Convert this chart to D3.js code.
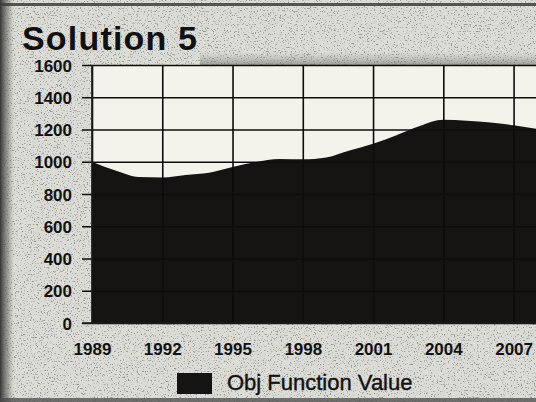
<!DOCTYPE html>
<html>
<head>
<meta charset="utf-8">
<script src="https://cdn.jsdelivr.net/npm/d3@7"></script>
<style>
	body{margin:0;background:#dcdcd7;}
	svg{display:block;}
	.tick-label{font-family:"Liberation Sans",Arial,sans-serif;font-weight:bold;font-size:17px;fill:#111;}
</style>
</head>
<body>
<div id="plot"></div>
<script>
//Chart data
var YEARS = [1989,1990,1991,1992,1993,1994,1995,1996,1997,1998,1999,2000,2001,2002,2003,2004,2005,2006,2007,2008];
var OBJ_VALUES = [1000,945,905,903,918,932,968,998,1017,1015,1027,1070,1112,1165,1222,1260,1255,1244,1226,1203];
var Y_TICKS = [0,200,400,600,800,1000,1200,1400,1600];
var X_TICKS = [1989,1992,1995,1998,2001,2004,2007];
var TITLE = 'Solution 5',
	LEGEND_LABEL = 'Obj Function Value';

var W = 536, H = 402;
var m = {t:65,r:-1,b:79,l:92};

var svg = d3.select('#plot').append('svg')
	.attr('width',W)
	.attr('height',H);

//speckle texture of the scan
var defs = svg.append('defs');
var grain = defs.append('filter').attr('id','grain')
	.attr('x',0).attr('y',0).attr('width','100%').attr('height','100%');
grain.append('feTurbulence')
	.attr('type','fractalNoise')
	.attr('baseFrequency',0.7)
	.attr('numOctaves',3)
	.attr('seed',7);
grain.append('feColorMatrix')
	.attr('type','matrix')
	.attr('values','0 0 0 0 0.3  0 0 0 0 0.3  0 0 0 0 0.28  -6 0 0 0 2.55');

var edge = defs.append('linearGradient').attr('id','edge');
edge.append('stop').attr('offset','0%').attr('stop-color','#2e2e2c').attr('stop-opacity',0.95);
edge.append('stop').attr('offset','60%').attr('stop-color','#6a6a66').attr('stop-opacity',0.5);
edge.append('stop').attr('offset','100%').attr('stop-color','#8a8a86').attr('stop-opacity',0);

var band = defs.append('linearGradient').attr('id','band')
	.attr('x1',0).attr('y1',0).attr('x2',0).attr('y2',1);
band.append('stop').attr('offset','0%').attr('stop-color','#9a9a94').attr('stop-opacity',0);
band.append('stop').attr('offset','100%').attr('stop-color','#6a6a64').attr('stop-opacity',0.55);

svg.append('rect').attr('width',W).attr('height',H).attr('fill','#dcdcd7');
svg.append('rect').attr('width',W).attr('height',H).attr('filter','url(#grain)');
svg.append('rect').attr('x',0).attr('y',0).attr('width',14).attr('height',H).attr('fill','url(#edge)');
svg.append('rect').attr('x',200).attr('y',52).attr('width',W-200).attr('height',13).attr('fill','url(#band)');
svg.append('rect').attr('x',0).attr('y',3).attr('width',W).attr('height',3).attr('fill','#3c3c3a').attr('opacity',0.85);
svg.append('rect').attr('x',0).attr('y',H-4).attr('width',W).attr('height',4).attr('fill','#4a4a48').attr('opacity',0.75);

var w = W - m.l - m.r,
	h = H - m.t - m.b;

var scaleX = d3.scaleLinear().domain([1989,2008]).range([0,w]),
	scaleY = d3.scaleLinear().domain([0,1600]).range([h,0]);

var plot = svg.append('g')
	.attr('class','canvas')
	.attr('transform','translate('+m.l+','+m.t+')');

//plot background
plot.append('rect')
	.attr('width',w).attr('height',h)
	.attr('fill','#f3f3ec');

//filled area
var area = d3.area()
	.x(function(d){return scaleX(d.year)})
	.y0(h)
	.y1(function(d){return scaleY(d.value)})
	.curve(d3.curveMonotoneX);

var series = YEARS.map(function(y,i){return {year:y,value:OBJ_VALUES[i]}});

plot.append('path').attr('class','area')
	.datum(series)
	.attr('d',area)
	.attr('fill','#161412');

//grid
var yAxis = d3.axisLeft(scaleY)
	.tickValues(Y_TICKS)
	.tickSize(-w)
	.tickSizeOuter(0)
	.tickPadding(20)
	.tickFormat(d3.format('d'));
var gy = plot.append('g').attr('class','axis axis-y').call(yAxis);
gy.select('.domain').remove();
gy.selectAll('.tick line')
	.attr('x1',-10)
	.attr('stroke','#0d0c0b')
	.attr('stroke-width',1.6);
gy.selectAll('.tick text')
	.attr('class','tick-label')
	.attr('dy','0.36em');

var xAxis = d3.axisBottom(scaleX)
	.tickValues(X_TICKS)
	.tickSize(-h)
	.tickSizeOuter(0)
	.tickPadding(20)
	.tickFormat(d3.format('d'));
var gx = plot.append('g').attr('class','axis axis-x')
	.attr('transform','translate(0,'+h+')')
	.call(xAxis);
gx.select('.domain').remove();
gx.selectAll('.tick line')
	.attr('stroke','#0d0c0b')
	.attr('stroke-width',1.6);
gx.selectAll('.tick text')
	.attr('class','tick-label')
	.attr('y',32)
	.attr('dy',0);

//left and bottom frame
plot.append('line')
	.attr('x1',0).attr('x2',0).attr('y1',0).attr('y2',h)
	.attr('stroke','#1c1c1a').attr('stroke-width',1.6);
plot.append('line')
	.attr('x1',-10).attr('x2',w).attr('y1',h).attr('y2',h)
	.attr('stroke','#1c1c1a').attr('stroke-width',1.6);

//title
svg.append('text')
	.attr('x',22).attr('y',50)
	.attr('textLength',175)
	.attr('lengthAdjust','spacing')
	.style('font-family','"Liberation Sans",Arial,sans-serif')
	.style('font-weight','bold')
	.style('font-size','34px')
	.style('fill','#111')
	.text(TITLE);

//legend
var legend = svg.append('g').attr('class','legend')
	.attr('transform','translate(177,373)');
legend.append('rect')
	.attr('width',35).attr('height',21)
	.attr('fill','#161412');
legend.append('text')
	.attr('x',50).attr('y',17)
	.style('font-family','"Liberation Sans",Arial,sans-serif')
	.style('font-size','22px')
	.style('fill','#111')
	.style('stroke','#111')
	.style('stroke-width',0.4)
	.text(LEGEND_LABEL);
</script>
</body>
</html>
